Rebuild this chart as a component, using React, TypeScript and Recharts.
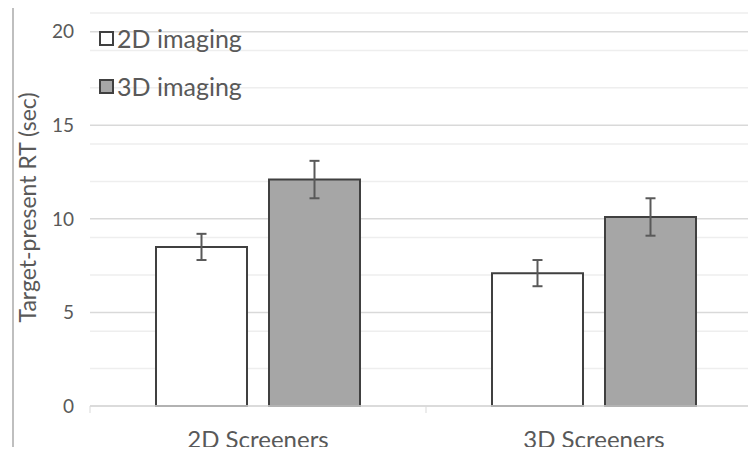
import { BarChart, Bar, XAxis, YAxis, CartesianGrid, ErrorBar, Legend } from 'recharts'

const categories = ['2D Screeners', '3D Screeners']
const imaging2D = [8.5, 7.1]
const imaging3D = [12.1, 10.1]
const error2D = [0.7, 0.7]
const error3D = [1.0, 1.0]
const yTicks = [0, 5, 10, 15, 20]
const minorLines = [1, 2, 3, 4, 6, 7, 8, 9, 11, 12, 13, 14, 16, 17, 18, 19, 21]

const data = categories.map((name, i) => ({
  name,
  d2: imaging2D[i],
  d3: imaging3D[i],
  e2: error2D[i],
  e3: error3D[i],
}))

const W = 770
const H = 455
const margin = { top: 13, right: 8, left: 0, bottom: 0 }
const yWidth = 90
const halfBand = (W - margin.left - margin.right - yWidth) / categories.length / 2
const font = 'Lato, "Open Sans", sans-serif'
const textColor = '#595959'

function XTick(props: any) {
  const { x, y, payload } = props
  return (
    <g>
      <line x1={x - halfBand} x2={x - halfBand} y1={y - 8} y2={y - 1} stroke="#d9d9d9" />
      <text x={x} y={y + 34} textAnchor="middle" fill={textColor} fontSize={24} fontFamily={font}>
        {payload.value}
      </text>
    </g>
  )
}

function LegendBox(props: any) {
  const { payload } = props
  return (
    <div style={{ fontFamily: font }}>
      {payload.map((p: any) => (
        <div key={p.value} style={{ display: 'flex', alignItems: 'center', height: 48 }}>
          <span
            style={{
              display: 'inline-block',
              width: 11,
              height: 11,
              background: p.payload.fill,
              border: '2px solid #404040',
              marginRight: 3,
            }}
          />
          <span style={{ fontSize: 25, color: textColor }}>{p.value}</span>
        </div>
      ))}
    </div>
  )
}

export default function App() {
  return (
    <div style={{ position: 'relative', margin: -8, width: 756, height: 455, overflow: 'hidden', background: '#fff' }}>
      <div
        style={{
          position: 'absolute',
          left: 12,
          top: 2,
          width: 760,
          height: 451,
          border: '2px solid #bfbfbf',
          boxSizing: 'border-box',
        }}
      />
      <div style={{ position: 'absolute', left: 0, top: 0 }}>
        <BarChart width={W} height={H} data={data} margin={margin} barSize={91} barGap={22}>
          <CartesianGrid vertical={false} horizontalValues={minorLines} stroke="#eeeeee" strokeWidth={1.5} />
          <CartesianGrid vertical={false} horizontalValues={yTicks} stroke="#d9d9d9" strokeWidth={1.5} />
          <XAxis
            dataKey="name"
            height={49}
            axisLine={{ stroke: '#d9d9d9', strokeWidth: 1.5 }}
            tickLine={false}
            tick={<XTick />}
            interval={0}
          />
          <YAxis
            width={yWidth}
            domain={[0, 21]}
            ticks={yTicks}
            axisLine={false}
            tickLine={false}
            tick={{ fill: textColor, fontSize: 19, fontFamily: font, dx: -8 }}
            label={{
              value: 'Target-present RT (sec)',
              angle: -90,
              position: 'center',
              dx: -17,
              dy: -2,
              fill: textColor,
              fontSize: 23,
              fontFamily: font,
            }}
          />
          <Legend
            layout="vertical"
            align="center"
            verticalAlign="middle"
            wrapperStyle={{ left: 99, top: 14, width: 220 }}
            content={<LegendBox />}
          />
          <Bar dataKey="d2" name="2D imaging" fill="#ffffff" stroke="#404040" strokeWidth={2} isAnimationActive={false}>
            <ErrorBar dataKey="e2" width={5} stroke="#595959" strokeWidth={2} />
          </Bar>
          <Bar dataKey="d3" name="3D imaging" fill="#a6a6a6" stroke="#404040" strokeWidth={2} isAnimationActive={false}>
            <ErrorBar dataKey="e3" width={5} stroke="#595959" strokeWidth={2} />
          </Bar>
        </BarChart>
      </div>
    </div>
  )
}
